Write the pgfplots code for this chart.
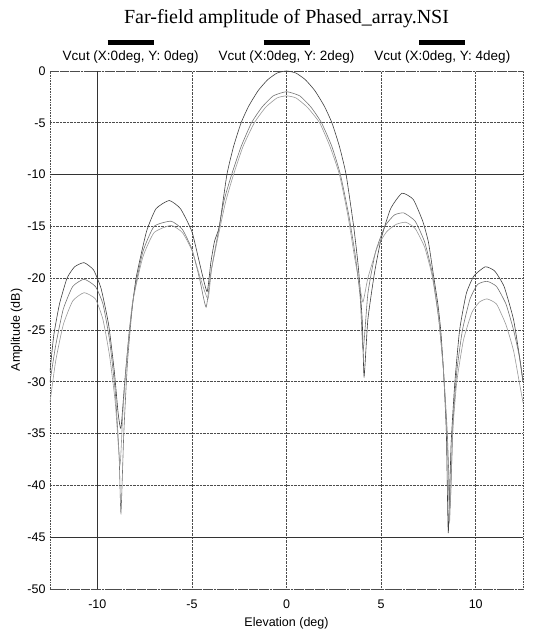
\documentclass[border=0pt]{standalone}
\usepackage{pgfplots}
\pgfplotsset{compat=1.18}
\usepackage{fontspec}
\setmainfont{Liberation Sans}
\newfontfamily\titlefont{Liberation Serif}
\newcommand{\legitem}[1]{\begin{tabular}{@{}c@{}}\rule{46pt}{5pt}\\[0pt]#1\end{tabular}}
\begin{document}
\begin{tikzpicture}
\begin{axis}[
  scale only axis, width=473pt, height=518pt,
  xmin=-12.5, xmax=12.5, ymin=-50, ymax=0,
  xtick={-10,-5,0,5,10}, ytick={-50,-45,...,0},
  grid=major,
  major grid style={densely dotted, black!70, line width=0.6pt},
  axis line style={densely dotted, black!70, line width=0.6pt},
  major tick length=0pt,
  extra y ticks={-10,-45}, extra y tick labels={},
  extra x ticks={-10}, extra x tick labels={},
  extra tick style={major grid style={solid, black!80, line width=1.1pt}},
  /pgf/number format/assume math mode=true,
  tick label style={font=\fontsize{12.5}{14}\selectfont},
  xticklabel style={yshift=-7pt},
  yticklabel style={xshift=-1pt},
  xlabel={Elevation (deg)}, ylabel={Amplitude (dB)},
  label style={font=\fontsize{12.5}{14}\selectfont},
  xlabel style={yshift=-2pt},
  ylabel style={yshift=-2pt},
  title={Far-field amplitude of Phased\_array.NSI},
  title style={font=\titlefont\fontsize{20}{22}\selectfont, at={(0.5,1)}, anchor=south, yshift=34pt},
  legend columns=3,
  legend image code/.code={},
  legend style={at={(0.5,1)}, anchor=south, yshift=14pt, draw=none, fill=none,
    font=\fontsize{13.5}{15}\selectfont, inner sep=0pt,
    /tikz/every even column/.append style={column sep=16pt}},
]
\coordinate (bl) at (rel axis cs:0,0);
\coordinate (tr) at (rel axis cs:1,1);
% Curve A: Y 0deg
\addplot[black!75, line width=0.6pt, smooth, tension=0.3] coordinates {
(-12.5,-29) (-12.3,-25.5) (-12.0,-22.5) (-11.6,-20) (-11.2,-18.9) (-10.7,-18.5)
(-10.2,-19.2) (-9.8,-21) (-9.4,-24.5) (-9.1,-29) (-8.9,-33) (-8.75,-34.5)
(-8.55,-30) (-8.3,-25) (-7.95,-20) (-7.4,-15.5) (-6.9,-13.3) (-6.2,-12.5)
(-5.6,-13.3) (-5.0,-15.5) (-4.6,-18.5) (-4.2,-21.3) (-4.0,-18.5) (-3.8,-16.4)
(-3.55,-15) (-3.15,-10) (-2.8,-7.3) (-2.4,-5) (-2.0,-3.4) (-1.5,-1.9) (-1.0,-0.85)
(-0.5,-0.2) (0,0) (0.5,-0.2) (1.0,-0.85) (1.5,-1.9) (2.0,-3.4) (2.4,-5) (2.8,-7.3)
(3.15,-10) (3.55,-15) (3.8,-19) (4.0,-24) (4.1,-29.5) (4.3,-24) (4.65,-19.5)
(5.0,-16.2) (5.5,-13.3) (6.1,-11.8) (6.7,-12.4) (7.2,-14.5) (7.5,-16.5)
(7.75,-19.5) (8.0,-22.5) (8.15,-25) (8.3,-29) (8.45,-35) (8.55,-44.6)
(8.7,-36) (8.9,-30) (9.15,-25) (9.5,-21.5) (9.9,-19.8) (10.5,-18.9) (11.0,-19.3)
(11.5,-20.8) (12.0,-24) (12.35,-28) (12.5,-30)
};
\addlegendentry{\legitem{Vcut (X:0deg, Y: 0deg)}}
% Curve B: Y 2deg
\addplot[black!55, line width=0.6pt, smooth, tension=0.3] coordinates {
(-12.5,-30) (-12.2,-26.5) (-11.8,-23) (-11.3,-20.8) (-10.7,-20.1) (-10.1,-20.8)
(-9.7,-22.5) (-9.35,-26) (-9.05,-31) (-8.85,-37) (-8.75,-42.7) (-8.6,-35)
(-8.4,-28) (-8.1,-22) (-7.6,-17.5) (-7.0,-15) (-6.1,-14.5) (-5.5,-15.3)
(-5.0,-17.2) (-4.6,-20) (-4.25,-22.8) (-4.0,-19.5) (-3.6,-15.5) (-3.3,-12.5)
(-2.9,-10) (-2.4,-7.3) (-1.85,-5) (-1.3,-3.5) (-0.7,-2.4) (0,-2.0) (0.7,-2.4)
(1.3,-3.5) (1.85,-5) (2.4,-7.3) (2.85,-10) (3.3,-14) (3.65,-18) (3.9,-22)
(4.05,-27) (4.3,-21.5) (4.7,-17.5) (5.2,-15) (5.7,-13.9) (6.2,-13.7) (6.8,-14.5)
(7.3,-16.5) (7.7,-19.5) (8.05,-24) (8.3,-29) (8.5,-35) (8.65,-42) (8.8,-34)
(9.0,-29) (9.3,-25) (9.7,-22) (10.1,-20.6) (10.6,-20.3) (11.1,-20.8)
(11.6,-22.5) (12.0,-25) (12.3,-27.5) (12.5,-30)
};
\addlegendentry{\legitem{Vcut (X:0deg, Y: 2deg)}}
% Curve C: Y 4deg
\addplot[black!40, line width=0.6pt, smooth, tension=0.3] coordinates {
(-12.5,-32) (-12.2,-28) (-11.8,-24.5) (-11.3,-22.2) (-10.7,-21.4) (-10.1,-22)
(-9.7,-24) (-9.35,-27.5) (-9.05,-32) (-8.8,-38) (-8.65,-33) (-8.45,-28)
(-8.15,-22.5) (-7.6,-18) (-7.0,-15.6) (-6.1,-14.9) (-5.5,-15.6) (-5.0,-17.3)
(-4.55,-20) (-4.15,-22) (-3.95,-19) (-3.5,-15) (-3.2,-12.5) (-2.8,-10)
(-2.3,-7.3) (-1.7,-5) (-1.1,-3.5) (-0.5,-2.6) (0,-2.4) (0.5,-2.6) (1.1,-3.5)
(1.75,-5) (2.3,-7.3) (2.8,-10) (3.25,-14) (3.6,-18) (3.85,-20.5) (4.04,-22.3)
(4.3,-20) (4.8,-17) (5.3,-15.5) (5.8,-14.8) (6.3,-14.6) (6.8,-15.2) (7.3,-17)
(7.7,-19.8) (8.05,-24) (8.3,-29) (8.5,-36) (8.62,-43.5) (8.78,-35) (9.0,-30)
(9.35,-26) (9.8,-23.3) (10.2,-22.3) (10.6,-22.0) (11.1,-22.5) (11.6,-24.5)
(12.0,-27) (12.3,-30) (12.5,-32)
};
\addlegendentry{\legitem{Vcut (X:0deg, Y: 4deg)}}
\end{axis}
\pgfresetboundingbox
\path[use as bounding box] ([xshift=-50pt,yshift=-41pt]bl) rectangle ([xshift=13pt,yshift=71pt]tr);
\end{tikzpicture}
\end{document}
